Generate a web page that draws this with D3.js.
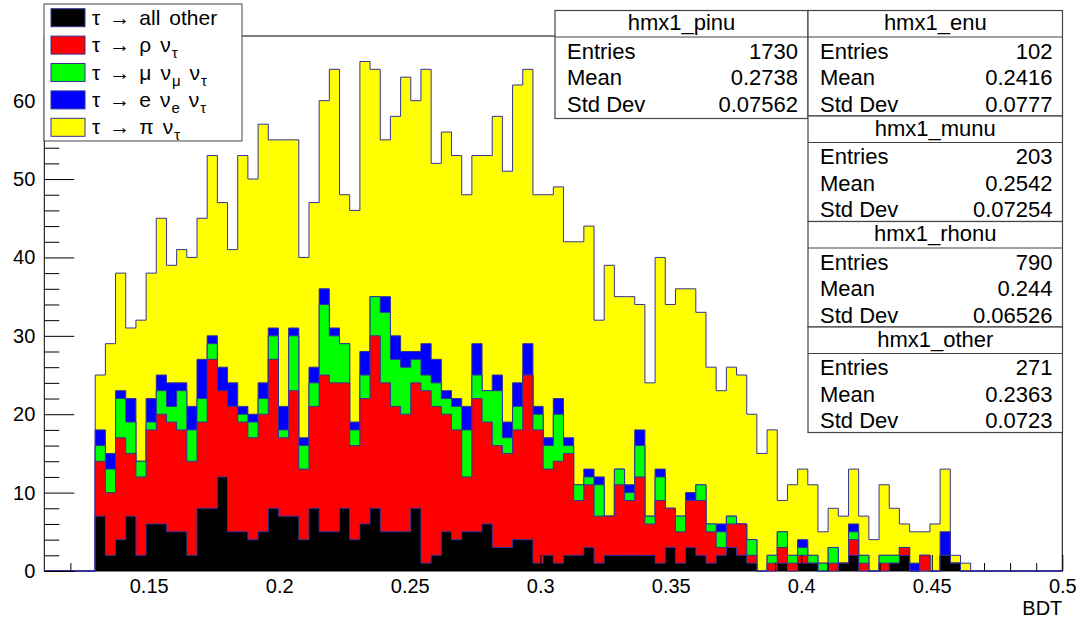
<!DOCTYPE html>
<html><head><meta charset="utf-8">
<script src="https://cdn.jsdelivr.net/npm/d3@7"></script>
<style>
body{margin:0;background:#fff}
svg{display:block}
text{font-family:"Liberation Sans",Arial,Helvetica,sans-serif;fill:#000}
</style>
</head><body>
<svg id="c" width="1080" height="619"></svg>
<script>
// ---- histogram definition: 100 bins on [0.11, 0.5]; filled bins start at bin 5 ----
const binLow = 0.11, binHigh = 0.5, nBins = 100, firstFilled = 5;

// counts per bin (86 filled bins), one array per decay mode
const other = [7,2,4,7,2,6,6,5,5,2,8,8,12,5,5,4,5,8,7,
  7,4,8,5,5,8,4,6,8,5,5,5,8,1,2,5,4,5,
  5,6,3,3,4,4,1,2,1,2,2,3,1,2,2,2,2,2,1,
  3,1,3,2,1,2,3,2,1,0,0,1,0,1,1,0,0,1,2,0,0,0,1,2,0,0,0,2,1,0];
const rhonu = [7,8,13,8,10,12,14,14,13,12,11,19,11,16,14,13,15,19,10,
  16,9,13,20,19,16,12,16,22,19,16,15,16,22,19,15,14,7,
  17,13,13,12,14,21,17,11,13,13,7,8,6,5,9,7,10,4,8,
  5,4,6,7,4,1,3,4,1,0,1,2,1,1,0,0,1,0,2,1,0,1,0,1,0,2,0,0,0,0];
const munu = [2,3,5,4,2,1,3,2,5,4,3,2,0,0,1,2,2,3,1,
  7,3,3,9,6,5,2,3,5,9,6,6,3,2,3,2,3,6,
  3,4,7,2,3,0,2,3,6,1,2,1,4,0,2,1,4,1,3,
  0,2,0,2,1,2,1,0,2,0,1,2,1,1,1,1,2,0,1,1,0,1,1,0,0,0,0,0,0,0];
const enu = [2,2,1,3,0,3,2,3,1,3,5,1,3,3,1,1,2,1,3,
  1,1,2,2,1,0,1,3,0,2,3,2,1,4,3,1,1,3,
  4,0,2,2,3,4,1,1,2,1,0,1,1,0,0,1,2,0,1,
  0,0,1,0,0,1,0,0,0,0,0,0,0,1,0,0,0,0,1,0,0,0,0,0,1,0,0,3,0,0];
const pinu = [7,14,15,9,18,16,20,15,17,19,18,23,21,17,32,30,33,24,34,
  24,23,21,24,33,19,27,37,29,20,28,35,32,35,25,33,31,27,
  24,30,33,32,38,35,27,31,27,25,31,31,20,32,22,24,16,17,27,
  26,29,26,22,20,17,19,19,16,15,16,4,9,9,9,4,5,6,7,5,4,9,6,3,4,3,6,8,1,1];

const seriesKeys = ["other","rhonu","munu","enu","pinu"];
const seriesColors = ["#000000","#ff0000","#00ff00","#0000ff","#ffff00"];

const xTickValues = [0.15,0.2,0.25,0.3,0.35,0.4,0.45,0.5];
const xTickLabels = ["0.15","0.2","0.25","0.3","0.35","0.4","0.45","0.5"];
const yTickValues = [0,10,20,30,40,50,60];
const yMax = 68.25;
const xTitle = "BDT";

const legendLabels = ["τ → all other","τ → ρ ν_{τ}","τ → μ ν_{μ} ν_{τ}","τ → e ν_{e} ν_{τ}","τ → π ν_{τ}"];
const legendColors = ["#000000","#ff0000","#00ff00","#0000ff","#ffff00"];

const statNames = ["hmx1_pinu","hmx1_enu","hmx1_munu","hmx1_rhonu","hmx1_other"];
const statEntries = ["1730","102","203","790","271"];
const statMeans = ["0.2738","0.2416","0.2542","0.244","0.2363"];
const statStdDevs = ["0.07562","0.0777","0.07254","0.06526","0.0723"];

// ---- layout ----
const frame = {left:44.3, right:1062.3, top:36, bottom:571};
const lineCol = "#333399";
const svg = d3.select("#c");
svg.append("rect").attr("width",1080).attr("height",619).attr("fill","#fff");

const x = d3.scaleLinear().domain([binLow, binHigh]).range([frame.left, frame.right]);
const y = d3.scaleLinear().domain([0, yMax]).range([frame.bottom, frame.top]);
const bw = (binHigh - binLow) / nBins;

// table of bin edges (101 points, last repeats for step curve)
const src = {other, rhonu, munu, enu, pinu};
const rows = d3.range(nBins + 1).map(i => {
  const r = {edge: binLow + i * bw};
  const j = i - firstFilled;
  seriesKeys.forEach(k => { r[k] = (i < nBins && j >= 0 && j < src[k].length) ? src[k][j] : 0; });
  return r;
});
const stacked = d3.stack().keys(seriesKeys)(rows);

// frame
svg.append("rect").attr("x",frame.left).attr("y",frame.top)
  .attr("width",frame.right-frame.left).attr("height",frame.bottom-frame.top)
  .attr("fill","none").attr("stroke","#000").attr("stroke-width",1);

// THStack drawing: cumulative histograms from top to bottom
const area = d3.area().curve(d3.curveStepAfter)
  .x(d => x(d.data.edge)).y0(y(0)).y1(d => y(d[1]));
const line = d3.line().curve(d3.curveStepAfter)
  .x(d => x(d.data.edge)).y(d => y(d[1]));
const gH = svg.append("g");
for (let k = stacked.length - 1; k >= 0; k--) {
  gH.append("path").datum(stacked[k]).attr("d", area)
    .attr("fill", seriesColors[k]).attr("stroke","none");
  gH.append("path").datum(stacked[k]).attr("d", line)
    .attr("fill","none").attr("stroke", lineCol).attr("stroke-width",1);
}

// axes (ticks inward, drawn on top)
const fmtX = d => xTickLabels[xTickValues.indexOf(d)];
const xMinor = d3.range(12, 51).map(v => v / 100).filter(v => Math.round(v*100) % 5 !== 0);
const gx = svg.append("g").attr("transform",`translate(0,${frame.bottom})`);
gx.call(d3.axisBottom(x).tickValues(xMinor).tickSizeInner(-8).tickSizeOuter(0).tickFormat(""));
gx.call(g => g.selectAll(".domain").remove());
const gx2 = svg.append("g").attr("transform",`translate(0,${frame.bottom})`);
gx2.call(d3.axisBottom(x).tickValues(xTickValues).tickSizeInner(-16).tickSizeOuter(0).tickPadding(8).tickFormat(fmtX));
gx2.select(".domain").remove();
gx2.selectAll("text").attr("font-size",20).attr("font-family","Liberation Sans, Arial, sans-serif");

const yMinor = d3.range(0, 69, 2).filter(v => v % 10 !== 0);
const gy = svg.append("g").attr("transform",`translate(${frame.left},0)`);
gy.call(d3.axisLeft(y).tickValues(yMinor).tickSizeInner(-15).tickSizeOuter(0).tickFormat(""));
gy.select(".domain").remove();
const gy2 = svg.append("g").attr("transform",`translate(${frame.left},0)`);
gy2.call(d3.axisLeft(y).tickValues(yTickValues).tickSizeInner(-30).tickSizeOuter(0).tickPadding(9).tickFormat(d3.format("d")));
gy2.select(".domain").remove();
gy2.selectAll("text").attr("font-size",20).attr("font-family","Liberation Sans, Arial, sans-serif");
svg.selectAll(".tick line").attr("stroke","#000").attr("stroke-width",1);

svg.append("text").attr("x",frame.right).attr("y",615).attr("text-anchor","end")
  .attr("font-size",20).text(xTitle);

// legend
const leg = {x:44, y:4, w:198, h:137};
svg.append("rect").attr("x",leg.x).attr("y",leg.y).attr("width",leg.w).attr("height",leg.h)
  .attr("fill","#fff").attr("stroke","#444").attr("stroke-width",1);
legendLabels.forEach((lab, i) => {
  const cy = leg.y + leg.h * (i + 0.5) / legendLabels.length;
  svg.append("rect").attr("x",51).attr("y",cy-9).attr("width",34).attr("height",18)
    .attr("fill",legendColors[i]).attr("stroke",lineCol).attr("stroke-width",1);
  let cx = 92;
  lab.split(" ").forEach(tok => {
    const m = tok.match(/^([^_]*)(?:_\{(.*)\})?$/);
    const main = m[1], sub = m[2];
    const greek = /[α-ω→]/.test(main);
    const t = svg.append("text").attr("x",cx).attr("y",cy+7).attr("font-size",21)
      .attr("font-family", main === "→" ? "DejaVu Sans" : (greek ? "Liberation Serif" : "Liberation Sans")).text(main);
    cx += t.node().getComputedTextLength();
    if (sub) {
      cx += 1;
      const s = svg.append("text").attr("x",cx).attr("y",cy+13).attr("font-size",15)
        .attr("font-family", /[α-ω]/.test(sub) ? "Liberation Serif" : "Liberation Sans").text(sub);
      cx += s.node().getComputedTextLength();
    }
    cx += 9;
  });
});

// stat boxes
const boxes = [
  {x:555, y:10.5, w:253, h:108},
  {x:808, y:10.5, w:254.5, h:105.5},
  {x:808, y:116, w:254.5, h:105.5},
  {x:808, y:221.5, w:254.5, h:105.5},
  {x:808, y:327, w:254.5, h:105.5}
];
boxes.forEach((b, i) => {
  const g = svg.append("g");
  g.append("rect").attr("x",b.x).attr("y",b.y).attr("width",b.w).attr("height",b.h)
    .attr("fill","#fff").attr("stroke","#444").attr("stroke-width",1.2);
  g.append("line").attr("x1",b.x).attr("x2",b.x+b.w).attr("y1",b.y+26.5).attr("y2",b.y+26.5)
    .attr("stroke","#444").attr("stroke-width",1.2);
  g.append("text").attr("x",b.x+b.w/2).attr("y",b.y+19.5).attr("text-anchor","middle")
    .attr("font-size",22).text(statNames[i]);
  const labs = ["Entries","Mean","Std Dev"];
  const vals = [statEntries[i], statMeans[i], statStdDevs[i]];
  labs.forEach((l, r) => {
    const by = b.y + 48 + r * 26.5;
    g.append("text").attr("x",b.x+12).attr("y",by).attr("font-size",22).text(l);
    g.append("text").attr("x",b.x+b.w-10).attr("y",by).attr("text-anchor","end").attr("font-size",22).text(vals[r]);
  });
});
</script>
</body></html>
